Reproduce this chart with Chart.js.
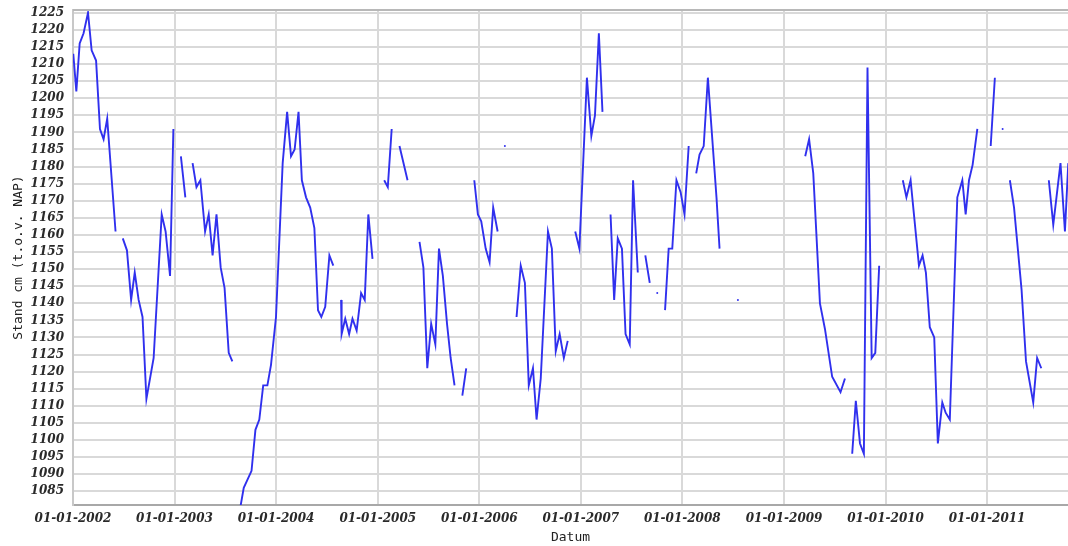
<!DOCTYPE html>
<html>
<head>
<meta charset="utf-8">
<script src="https://cdn.jsdelivr.net/npm/chart.js@4.4.1/dist/chart.umd.min.js"></script>
<style>
html,body{margin:0;padding:0;background:#fff;}
#wrap{width:1068px;height:546px;}
</style>
</head>
<body>
<div id="wrap"><canvas id="c" width="1068" height="546"></canvas></div>
<script>
// Measurement dates (null level = break in the line)
const dates = [
"2002-01-02","2002-01-13","2002-01-25","2002-02-08","2002-02-24","2002-03-09","2002-03-25","2002-04-08","2002-04-21","2002-05-04","2002-06-03",
"2002-06-16",
"2002-06-29","2002-07-14","2002-07-29","2002-08-11","2002-08-25","2002-09-08","2002-09-22","2002-10-18","2002-11-16","2002-11-30","2002-12-16","2002-12-28",
"2003-01-10",
"2003-01-24","2003-02-09",
"2003-02-22",
"2003-03-07","2003-03-21","2003-04-04","2003-04-21","2003-05-04","2003-05-18","2003-06-01","2003-06-16","2003-06-30","2003-07-15","2003-07-28",
"2003-08-10",
"2003-08-25","2003-09-07","2003-10-05","2003-10-19","2003-11-02","2003-11-16","2003-12-01","2003-12-14","2004-01-01","2004-01-25","2004-02-10","2004-02-24","2004-03-08","2004-03-22","2004-04-03","2004-04-18","2004-05-03","2004-05-18","2004-05-31","2004-06-12","2004-06-26","2004-07-11","2004-07-25",
"2004-08-08",
"2004-08-22","2004-08-24","2004-09-06","2004-09-20","2004-10-02","2004-10-17","2004-11-02","2004-11-15","2004-11-28","2004-12-13",
"2004-12-28",
"2005-01-24","2005-02-06","2005-02-20",
"2005-03-06",
"2005-03-20","2005-04-18",
"2005-05-10",
"2005-05-31","2005-06-14","2005-06-28","2005-07-12","2005-07-27","2005-08-09","2005-08-23","2005-09-07","2005-09-20","2005-10-04",
"2005-10-18",
"2005-11-01","2005-11-15",
"2005-11-30",
"2005-12-14","2005-12-27","2006-01-08","2006-01-24","2006-02-07","2006-02-20","2006-03-08",
"2006-03-20",
"2006-04-03",
"2006-04-20",
"2006-05-15","2006-05-30","2006-06-14","2006-06-28","2006-07-13","2006-07-26","2006-08-10","2006-09-05","2006-09-19","2006-10-03","2006-10-17","2006-11-01","2006-11-15",
"2006-11-28",
"2006-12-12","2006-12-27","2007-01-23","2007-02-08","2007-02-21","2007-03-07","2007-03-20",
"2007-04-04",
"2007-04-18","2007-05-01","2007-05-14","2007-05-29","2007-06-11","2007-06-26","2007-07-08","2007-07-25",
"2007-08-08",
"2007-08-21","2007-09-06",
"2007-09-20",
"2007-10-03",
"2007-10-17",
"2007-10-31","2007-11-13","2007-11-26","2007-12-11","2007-12-26","2008-01-09","2008-01-24",
"2008-02-07",
"2008-02-20","2008-03-03","2008-03-18","2008-04-02","2008-05-03","2008-05-14",
"2008-06-15",
"2008-07-19",
"2008-08-15",
"2009-03-18","2009-04-01","2009-04-16","2009-05-10","2009-05-28","2009-06-23","2009-07-23","2009-08-08",
"2009-08-20",
"2009-09-03","2009-09-16","2009-10-01","2009-10-15","2009-10-28","2009-11-12","2009-11-25","2009-12-09",
"2010-01-20",
"2010-03-04","2010-03-17","2010-04-01","2010-05-01","2010-05-14","2010-05-26","2010-06-09","2010-06-25","2010-07-08","2010-07-24","2010-08-05","2010-08-20","2010-09-16","2010-10-04","2010-10-16","2010-10-28","2010-11-10","2010-11-27",
"2010-12-20",
"2011-01-14","2011-01-29",
"2011-02-12",
"2011-02-26",
"2011-03-10",
"2011-03-24","2011-04-08","2011-05-05","2011-05-21","2011-06-16","2011-06-30","2011-07-15",
"2011-07-28",
"2011-08-11","2011-08-27","2011-09-22","2011-10-08","2011-10-20"
];

// Water level, cm relative to NAP
const levels = [
1213,1202,1216,1219,1225,1214,1211,1191,1188,1194,1161,
null,
1159,1155.5,1141,1149,1141,1136,1112,1124,1166,1161,1148,1191,
null,
1183,1171,
null,
1181,1174,1176,1161,1166,1154,1166,1150.5,1144.5,1125.5,1123,
null,
1080,1086,1091,1103,1106,1116,1116,1122,1136,1181,1196,1183,1185,1196,1176,1171,1168,1162,1138,1136,1139,1154,1151,
null,
1141,1131,1135.5,1131,1135.5,1132,1143,1141,1166,1153,
null,
1176,1174,1191,
null,
1186,1176,
null,
1158,1150.5,1121,1134,1128,1156,1148,1134,1124,1116,
null,
1113,1121,
null,
1176,1166,1164,1156,1152,1168,1161,
null,
1186,
null,
1136,1151,1146,1116,1121,1106,1118,1161,1156,1126,1131,1124,1129,
null,
1161,1156,1206,1189,1195,1219,1196,
null,
1166,1141,1159,1156,1131,1128,1176,1149,
null,
1154,1146,
null,
1143,
null,
1138,1156,1156,1176,1172.5,1166,1186,
null,
1178,1183.5,1186,1206,1171,1156,
null,
1141,
null,
1183,1188,1178,1140,1132.5,1118.5,1114,1118,
null,
1096,1111.5,1099,1096,1209,1124,1125.5,1151,
null,
1176,1171,1176,1151,1154,1149,1133,1130,1099,1111,1108,1106,1171,1176,1166,1176,1180.5,1191,
null,
1186,1206,
null,
1191,
null,
1176,1168,1144,1123,1111,1124,1121,
null,
1176,1163,1181,1161,1181
];

// Axis ticks
const yearTicks = ["2002","2003","2004","2005","2006","2007","2008","2009","2010","2011"];
const levelTicks = [1085,1090,1095,1100,1105,1110,1115,1120,1125,1130,1135,1140,1145,1150,1155,1160,1165,1170,1175,1180,1185,1190,1195,1200,1205,1210,1215,1220,1225];
const xStart = "2002-01-01", xEnd = "2011-10-19";
const yMin = 1081, yMax = 1225.8;

const toMs = s => Date.parse(s + "T00:00:00Z");
const points = dates.map((d, i) => ({x: toMs(d), y: levels[i]}));

const frame = {
  id: 'frame',
  afterDraw(chart) {
    const {ctx, chartArea: a} = chart;
    ctx.save();
    ctx.strokeStyle = '#b8b8b8';
    ctx.lineWidth = 2;
    ctx.beginPath();
    ctx.moveTo(a.left, a.top);
    ctx.lineTo(a.right, a.top);
    ctx.stroke();
    ctx.restore();
  }
};

const tickFont = {family: "'DejaVu Serif'", size: 12, style: 'italic', weight: 'bold'};
const titleFont = {family: "'DejaVu Sans Mono'", size: 13};

new Chart(document.getElementById('c'), {
  type: 'line',
  data: {
    datasets: [{
      data: points,
      borderColor: '#3030ee',
      backgroundColor: '#3030ee',
      borderWidth: 1.9,
      tension: 0,
      spanGaps: false,
      pointRadius: ctx => {
        const i = ctx.dataIndex, v = levels[i];
        if (v == null) return 0;
        const prev = i > 0 ? levels[i-1] : null, next = i < levels.length-1 ? levels[i+1] : null;
        return (prev == null && next == null) ? 1 : 0;
      },
      pointBorderWidth: 0,
      pointHoverRadius: 0
    }]
  },
  options: {
    responsive: false,
    animation: false,
    layout: {padding: {top: 10, right: 0, bottom: 0, left: 0}},
    plugins: {legend: {display: false}, tooltip: {enabled: false}},
    scales: {
      x: {
        type: 'linear',
        min: toMs(xStart),
        max: toMs(xEnd),
        afterBuildTicks: s => { s.ticks = yearTicks.map(y => ({value: toMs(y + "-01-01")})); },
        afterFit: s => { s.height = 41; s.paddingLeft = 0; s.paddingRight = 0; },
        ticks: {
          autoSkip: false, maxRotation: 0, padding: 7,
          color: '#2a2a2a', font: tickFont,
          callback: v => { const d = new Date(v); return '01-01-' + d.getUTCFullYear(); }
        },
        grid: {color: '#d9d9d9', lineWidth: 2, drawTicks: false},
        border: {color: '#a8a8a8', width: 2},
        title: {display: true, text: 'Datum', color: '#222', font: titleFont, padding: {top: 0, bottom: 1}}
      },
      y: {
        type: 'linear',
        min: yMin,
        max: yMax,
        afterBuildTicks: s => { s.ticks = levelTicks.map(v => ({value: v})); },
        afterFit: s => { s.width = 73; s.paddingTop = 0; s.paddingBottom = 0; },
        ticks: {autoSkip: false, padding: 9, color: '#2a2a2a', font: tickFont, callback: v => String(v)},
        grid: {color: '#d9d9d9', lineWidth: 2, drawTicks: false},
        border: {color: '#c8c8c8', width: 2},
        title: {display: true, text: 'Stand cm (t.o.v. NAP)', color: '#222', font: titleFont, padding: {top: 11, bottom: 0}}
      }
    }
  },
  plugins: [frame]
});
</script>
</body>
</html>
